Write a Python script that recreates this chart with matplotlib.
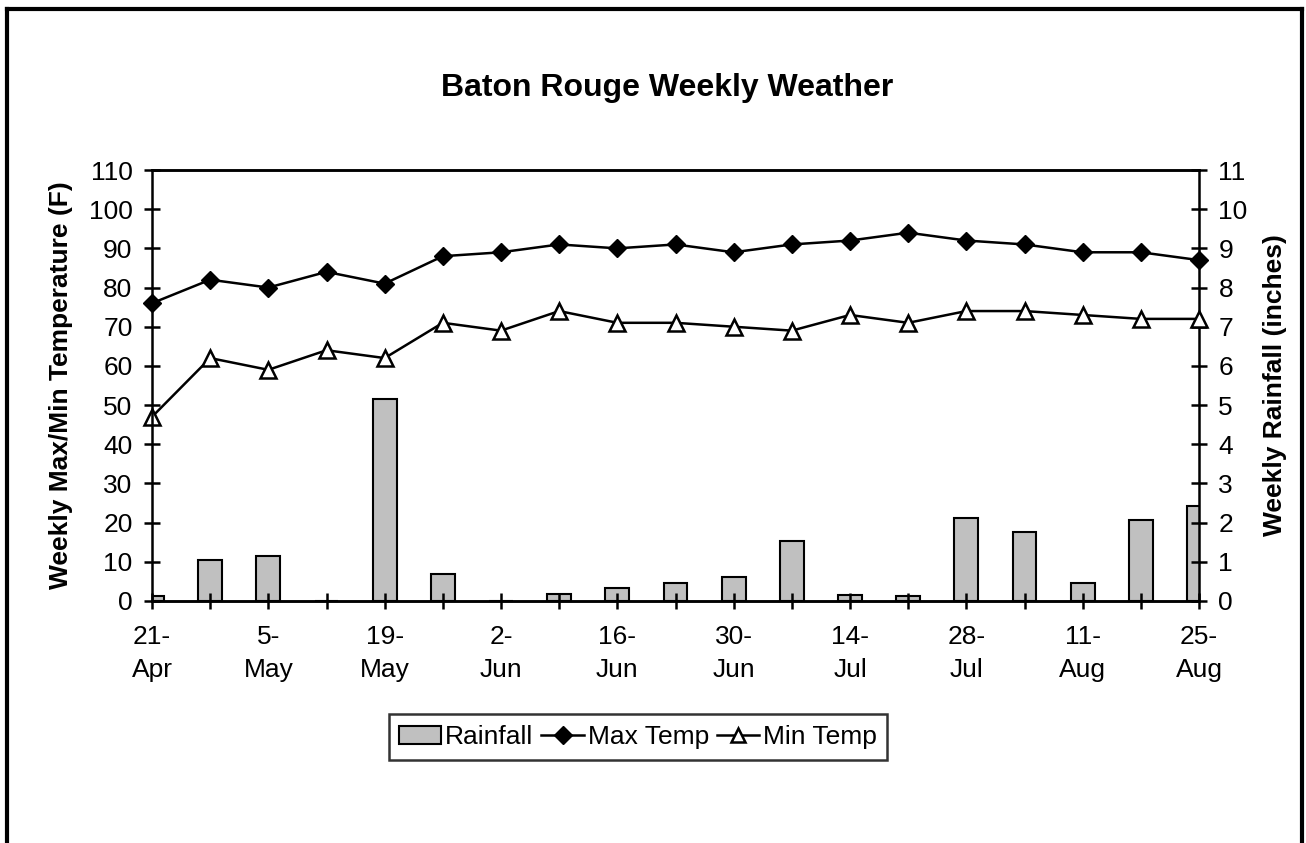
import matplotlib
matplotlib.use("Agg")
import matplotlib.pyplot as plt
from matplotlib.lines import Line2D
from matplotlib.patches import Patch
import numpy as np

plt.rcParams['font.family'] = ['Liberation Sans', 'DejaVu Sans']

weeks = ["21-Apr", "28-Apr", "5-May", "12-May", "19-May", "26-May", "2-Jun", "9-Jun",
         "16-Jun", "23-Jun", "30-Jun", "7-Jul", "14-Jul", "21-Jul", "28-Jul", "4-Aug",
         "11-Aug", "18-Aug", "25-Aug"]
rainfall = [0.13, 1.05, 1.15, 0.0, 5.15, 0.68, 0.0, 0.17, 0.33, 0.46, 0.60, 1.52,
            0.15, 0.13, 2.13, 1.77, 0.47, 2.08, 2.43]
max_temp = [76, 82, 80, 84, 81, 88, 89, 91, 90, 91, 89, 91, 92, 94, 92, 91, 89, 89, 87]
min_temp = [47, 62, 59, 64, 62, 71, 69, 74, 71, 71, 70, 69, 73, 71, 74, 74, 73, 72, 72]

FS = 19
W, H = 1306, 843
fig = plt.figure(figsize=(W / 100, H / 100), dpi=100)
ax = fig.add_axes([152 / W, 1 - 601 / H, (1199 - 152) / W, (601 - 170) / H])
ax2 = ax.twinx()

x = np.arange(len(weeks))
ax2.bar(x, rainfall, width=0.41, color='#c0c0c0', edgecolor='black', linewidth=1.5,
        label='Rainfall')
ax.plot(x, max_temp, color='black', lw=1.8, marker='D', ms=9, mfc='black', mec='black',
        label='Max Temp', clip_on=False)
ax.plot(x, min_temp, color='black', lw=1.8, marker='^', ms=11, mfc='white', mec='black',
        mew=1.8, label='Min Temp', clip_on=False)

ax.set_zorder(ax2.get_zorder() + 1)
ax.patch.set_visible(False)

ax.set_xlim(0, len(weeks) - 1)
ax.set_ylim(0, 110)
ax2.set_ylim(0, 11)
ax.set_yticks(np.arange(0, 111, 10))
ax2.set_yticks(np.arange(0, 12, 1))
ax.set_xticks(x)
ax.set_xticklabels([w.replace('-', '-\n') if i % 2 == 0 else '' for i, w in enumerate(weeks)],
                   linespacing=1.5)

for a in (ax, ax2):
    for s in a.spines.values():
        s.set_linewidth(1.8)
    a.tick_params(direction='inout', length=12, width=1.8, labelsize=FS, pad=8)
ax.spines['right'].set_visible(False)
ax2.spines['left'].set_visible(False)
ax.tick_params(axis='x', pad=11)

ax.set_ylabel('Weekly Max/Min Temperature (F)', fontsize=FS, fontweight='bold', labelpad=11)
ax2.set_ylabel('Weekly Rainfall (inches)', fontsize=FS, fontweight='bold', labelpad=11)

fig.text(667 / W, 1 - 88 / H, 'Baton Rouge Weekly Weather', ha='center', va='center',
         fontsize=23, fontweight='bold')

handles = [Patch(facecolor='#c0c0c0', edgecolor='black', linewidth=1.5),
           Line2D([], [], color='black', lw=1.8, marker='D', ms=9, mfc='black'),
           Line2D([], [], color='black', lw=1.8, marker='^', ms=10, mfc='white', mew=1.8)]
leg = fig.legend(handles, ['Rainfall', 'Max Temp', 'Min Temp'], loc='center',
                 bbox_to_anchor=(638 / W, 1 - 737 / H), ncol=3, fontsize=FS,
                 frameon=True, fancybox=False, edgecolor='black', handlelength=1.6,
                 handletextpad=0.15, columnspacing=0.3, borderpad=0.4,
                 borderaxespad=0)
leg.get_frame().set_linewidth(1.8)

# outer border (top, left, right)
for xs, ys in [([7 / W, 1302 / W], [1 - 8.5 / H, 1 - 8.5 / H]),
               ([7 / W, 7 / W], [1 - 8.5 / H, 0]),
               ([1302 / W, 1302 / W], [1 - 8.5 / H, 0])]:
    fig.add_artist(Line2D(xs, ys, color='black', lw=3, transform=fig.transFigure,
                          solid_capstyle='projecting'))

fig.savefig('out.png', dpi=100)
